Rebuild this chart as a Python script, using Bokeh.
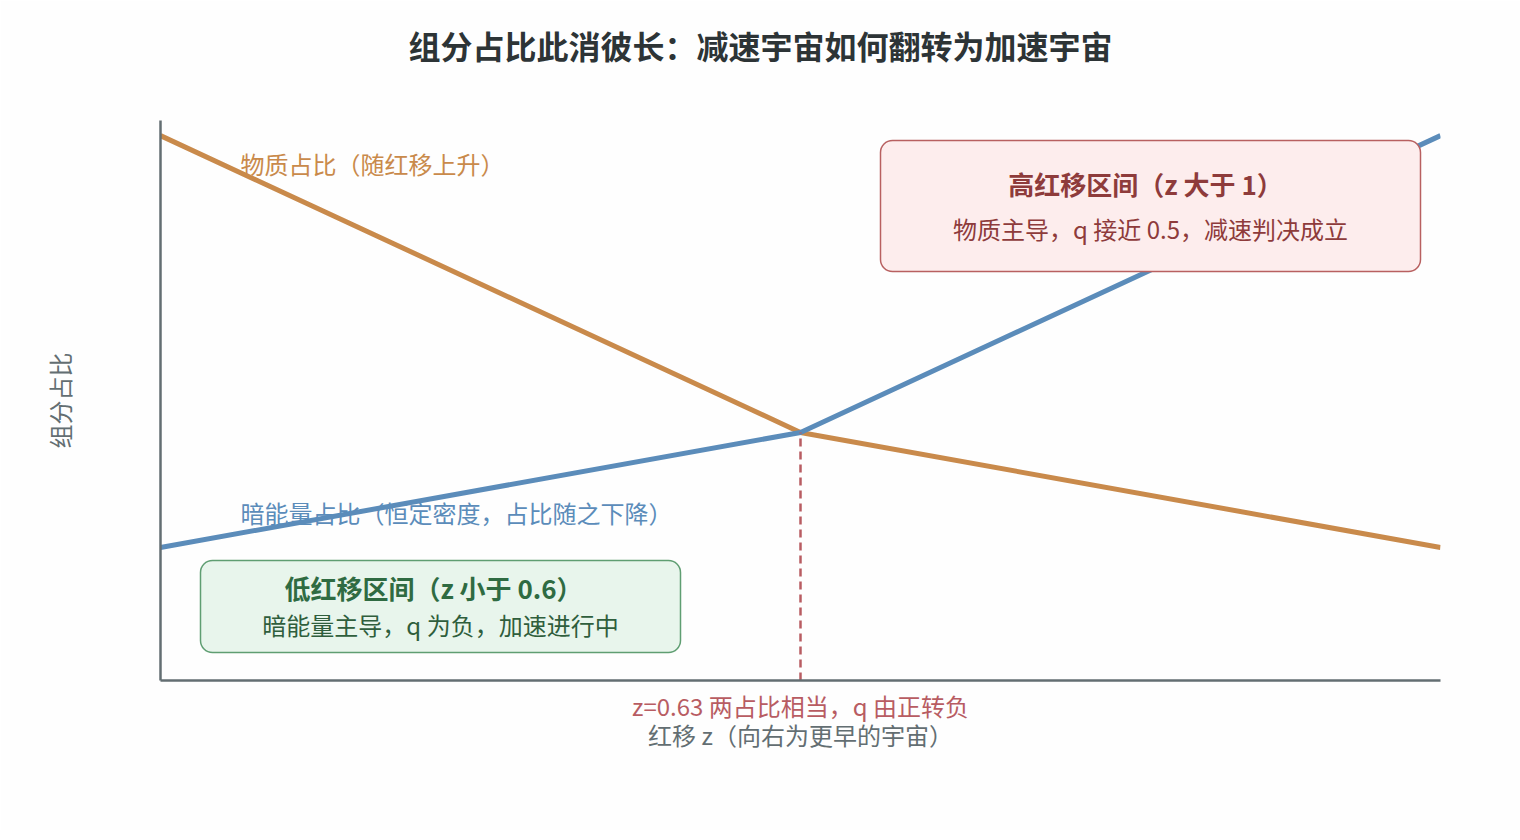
from bokeh.plotting import figure
from bokeh.models import Range1d, Label, BoxAnnotation, Title
from bokeh.embed import file_html
from bokeh.resources import INLINE

# ---- data ----
redshift = [0.0, 0.63, 1.26]
matter_frac = [0.973, 0.443, 0.2375]
dark_energy_frac = [0.2375, 0.443, 0.973]
z_cross = 0.63
cross_frac = 0.443

title_text = "组分占比此消彼长：减速宇宙如何翻转为加速宇宙"
x_label = "红移 z（向右为更早的宇宙）"
y_label = "组分占比"
matter_label = "物质占比（随红移上升）"
de_label = "暗能量占比（恒定密度，占比随之下降）"
cross_label = "z=0.63 两占比相当，q 由正转负"
low_title = "低红移区间（z 小于 0.6）"
low_sub = "暗能量主导，q 为负，加速进行中"
high_title = "高红移区间（z 大于 1）"
high_sub = "物质主导，q 接近 0.5，减速判决成立"

FONT = "Noto Sans CJK SC"
ORANGE = "#c98a4b"
BLUE = "#5b8cba"
RED = "#b85c62"
GRAY = "#636e72"

W, H = 1520, 830
FL, FR, FT, FB = 160, 1440, 120, 680
XMAX = 1.26

p = figure(width=W, height=H, output_backend="svg", toolbar_location=None,
           x_range=Range1d(0, XMAX), y_range=Range1d(0, 1),
           min_border_left=FL, min_border_right=W - FR,
           min_border_top=FT, min_border_bottom=H - FB)
p.background_fill_color = "#fefefe"
p.border_fill_color = "#fefefe"
p.outline_line_color = None
p.grid.visible = False

for ax in (p.xaxis[0], p.yaxis[0]):
    ax.axis_line_color = GRAY
    ax.axis_line_width = 2.5
    ax.major_tick_line_color = None
    ax.minor_tick_line_color = None
    ax.major_tick_out = 0
    ax.major_tick_in = 0
    ax.minor_tick_out = 0
    ax.major_label_standoff = 0
    ax.major_label_text_font_size = "0px"
    ax.major_label_text_color = None

# y axis label
p.yaxis.axis_label = y_label
p.yaxis.axis_label_text_font = FONT
p.yaxis.axis_label_text_font_size = "24px"
p.yaxis.axis_label_text_font_style = "normal"
p.yaxis.axis_label_text_color = GRAY
p.yaxis.axis_label_standoff = 84

# title: spacer first (nearest the frame), then the real title
p.title.text = ""
p.add_layout(Title(text=" ", text_font_size="1px", standoff=50), "above")
p.add_layout(Title(text=title_text, text_font=FONT, text_font_size="32px",
                   text_font_style="bold", text_color="#2d3436",
                   align="left", offset=248, standoff=0), "above")

# bottom texts
p.add_layout(Title(text=cross_label, text_font=FONT, text_font_size="24px",
                   text_font_style="normal", text_color=RED, align="center",
                   standoff=11), "below")
p.add_layout(Title(text=x_label, text_font=FONT, text_font_size="24px",
                   text_font_style="normal", text_color=GRAY, align="center",
                   standoff=-28), "below")

def dx(px):
    return (px - FL) / (FR - FL) * XMAX

def dy(py):
    return (FB - py) / (FB - FT)

def lab(px, py, text, size, color, align="center", bold=False, level="annotation"):
    p.add_layout(Label(x=dx(px), y=dy(py), text=text, text_font=FONT,
                       text_font_size=f"{size}px", text_color=color,
                       text_align=align, text_baseline="middle",
                       text_font_style="bold" if bold else "normal",
                       level=level))

# series labels sit under the lines
lab(240, 163, matter_label, 24, ORANGE, align="left", level="underlay")
lab(240, 512, de_label, 24, BLUE, align="left", level="underlay")

# lines
p.line(redshift, matter_frac, line_color=ORANGE, line_width=5)
p.line(redshift, dark_energy_frac, line_color=BLUE, line_width=5)
p.segment(x0=[z_cross], y0=[0], x1=[z_cross], y1=[cross_frac],
          line_color=RED, line_width=2.5, line_dash="8 5")

# boxes (above the lines)
p.add_layout(BoxAnnotation(left=dx(200), right=dx(680), bottom=dy(652), top=dy(560),
                           fill_color="#e8f5ec", fill_alpha=1, line_color="#5f9e72",
                           line_alpha=1, line_width=1.5, border_radius=12))
p.add_layout(BoxAnnotation(left=dx(880), right=dx(1420), bottom=dy(271), top=dy(140),
                           fill_color="#fdeded", fill_alpha=1, line_color="#b86060",
                           line_alpha=1, line_width=1.5, border_radius=12))

lab(433, 587, low_title, 26, "#2f6b42", bold=True)
lab(440, 624, low_sub, 24, "#2f5e3c")
lab(1145, 183, high_title, 26, "#8e3b3b", bold=True)
lab(1150, 228, high_sub, 24, "#8e3b3b")

open("out.html", "w").write(file_html(p, INLINE))
